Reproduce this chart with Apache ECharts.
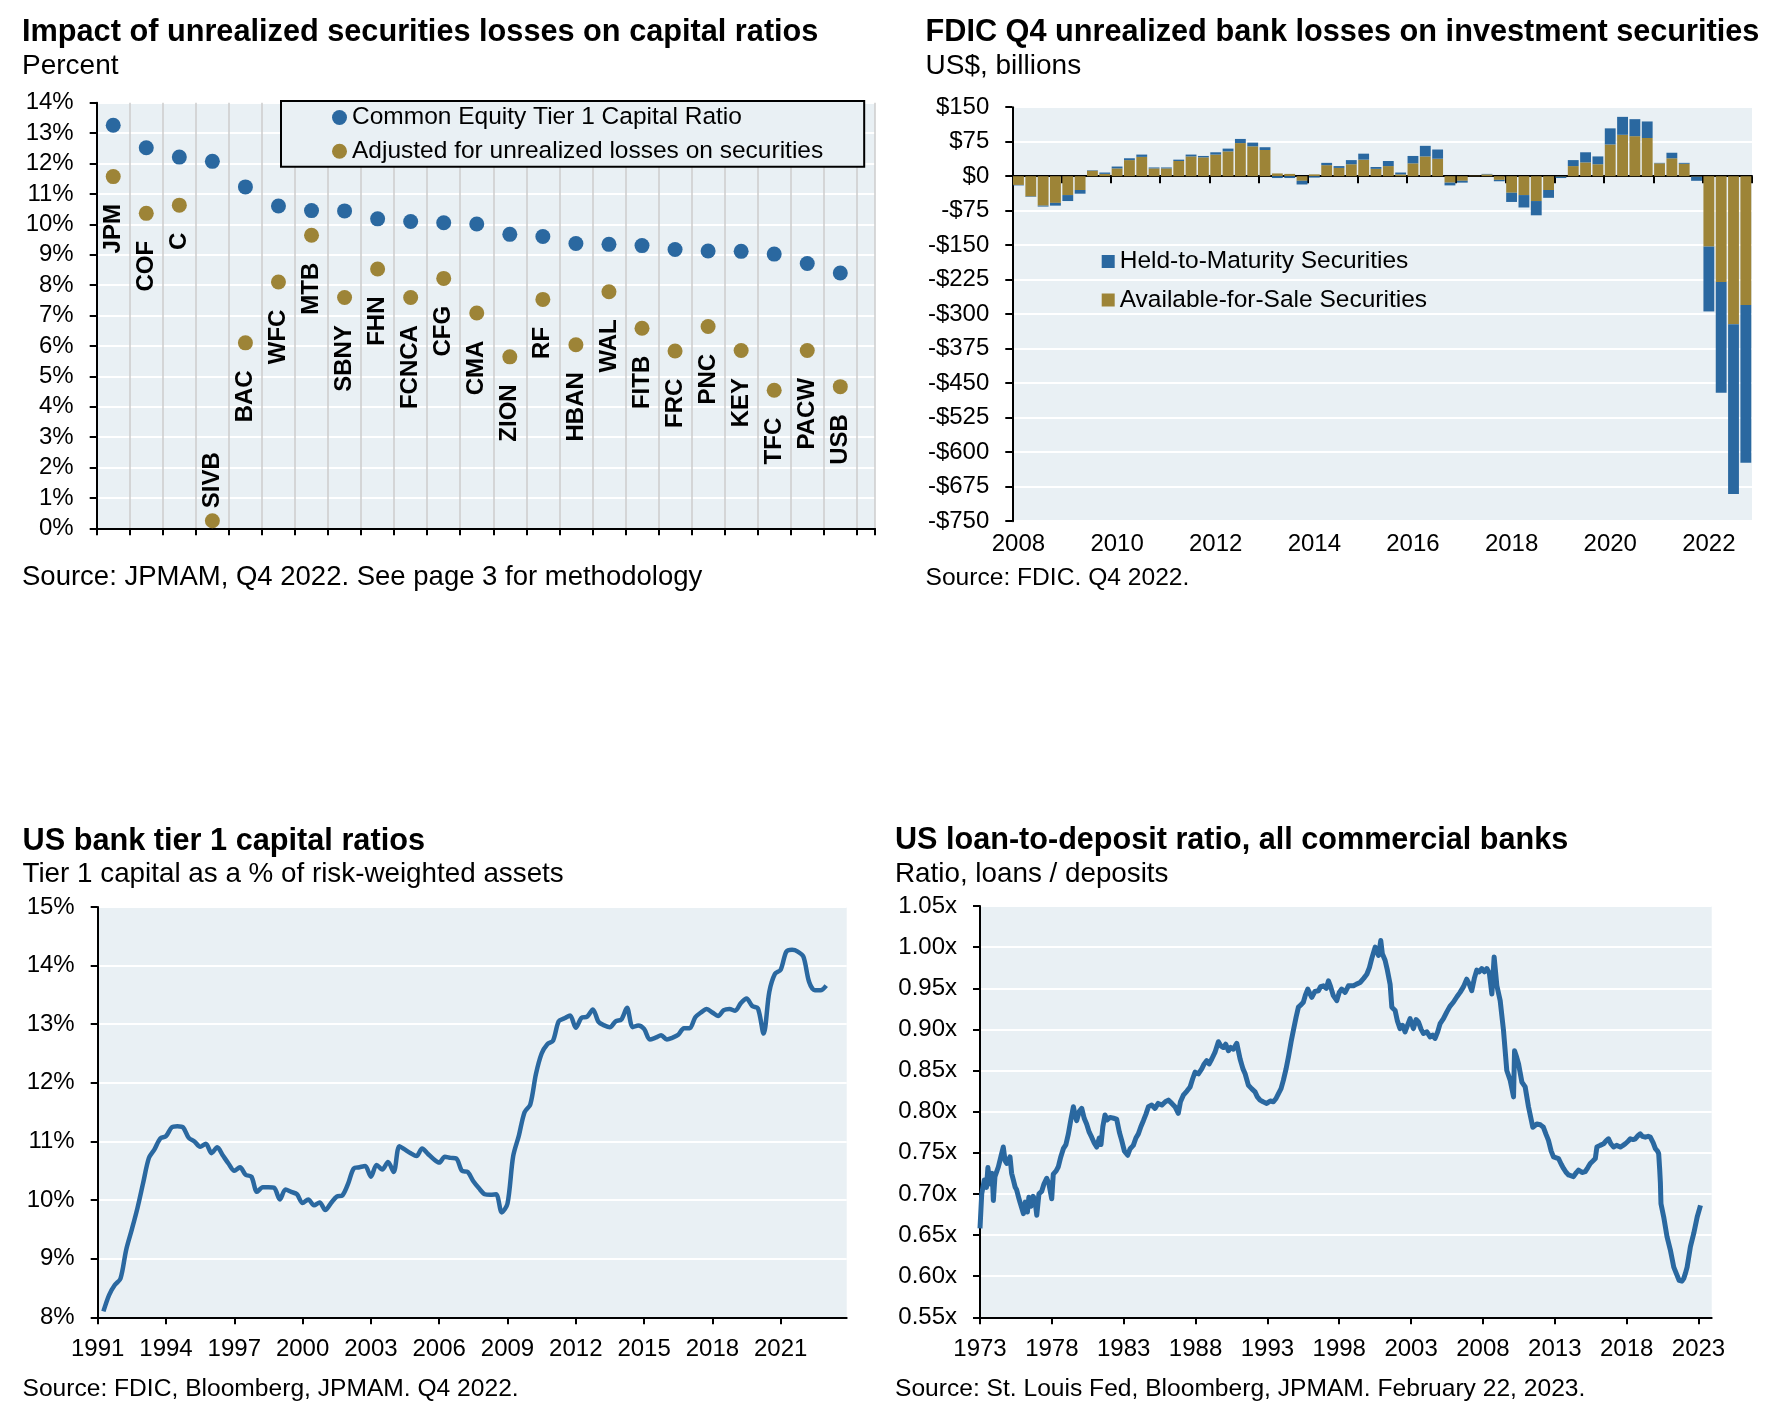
<!DOCTYPE html>
<html><head><meta charset="utf-8">
<script src="https://cdn.jsdelivr.net/npm/echarts@6/dist/echarts.min.js"></script>
<style>html,body{margin:0;padding:0;background:#fff}#c{width:1781px;height:1418px}</style>
</head><body><div id="c"></div>
<script>
// ---------- Chart 1: capital ratios by bank ----------
const banks = ['JPM','COF','C','SIVB','BAC','WFC','MTB','SBNY','FHN','FCNCA','CFG','CMA','ZION','RF','HBAN','WAL','FITB','FRC','PNC','KEY','TFC','PACW','USB'];
const cet1Ratio = [13.26,12.52,12.21,12.07,11.23,10.60,10.45,10.44,10.18,10.09,10.05,10.01,9.67,9.60,9.37,9.34,9.30,9.17,9.12,9.11,9.02,8.71,8.40];
const adjustedRatio = [11.57,10.36,10.63,0.25,6.10,8.10,9.64,7.59,8.53,7.59,8.22,7.08,5.64,7.53,6.04,7.78,6.58,5.83,6.64,5.85,4.54,5.85,4.66];
const labelAboveBanks = ['SIVB'];

// ---------- Chart 2: FDIC unrealized losses (US$ bn), 2008 Q1 .. 2022 Q4 ----------
const fdicYears = [2008,2009,2010,2011,2012,2013,2014,2015,2016,2017,2018,2019,2020,2021,2022];
const afsLosses = [-19,-44,-64,-58, -41,-30,12,5, 17,35,42,17, 17,33,43,41, 47,54,72,65, 57,6,5,-10, 4,24,18,26, 36,16,22,4, 28,43,38,-14, -10,1,4,-8, -36,-41,-54,-30, -1,22,30,26, 69,90,87,83, 28,39,27,-1, -153,-230,-322,-280];
const htmLosses = [-1,-1,-2,-6, -13,-8,1,3, 4,4,5,2, 2,3,4,3, 5,6,9,8, 6,-4,-4,-8, -3,5,4,9, 13,4,11,4, 16,23,20,-6, -4,0,1,-3, -20,-27,-31,-17, -3,13,22,17, 35,39,37,36, 1,12,2,-9, -141,-241,-369,-343];

// ---------- Chart 3: US bank tier 1 capital ratio, quarterly from 1991 Q1 ----------
const tier1StartYear = 1991.25;
const tier1Ratio = [8.10,8.38,8.55,8.66, 9.15,9.50,9.87,10.30, 10.72,10.87,11.05,11.09, 11.24,11.26,11.24,11.06,
  11.00,10.91,10.96,10.80, 10.90,10.76,10.62,10.50, 10.56,10.43,10.40,10.14, 10.22,10.22,10.21,10.01,
  10.18,10.14,10.10,9.95, 10.01,9.91,9.96,9.83, 9.95,10.06,10.08,10.28, 10.54,10.56,10.58,10.40,
  10.60,10.52,10.65,10.48, 10.92,10.86,10.80,10.75, 10.88,10.79,10.70,10.64, 10.74,10.72,10.71,10.50,
  10.48,10.32,10.20,10.10, 10.09,10.10,9.79,9.94, 10.75,11.10,11.50,11.63, 12.15,12.50,12.66,12.72,
  13.05,13.10,13.15,12.94, 13.11,13.13,13.25,13.04, 12.98,12.95,13.05,13.08, 13.28,12.95,12.98,12.92,
  12.74,12.77,12.81,12.74, 12.77,12.82,12.93,12.93, 13.12,13.20,13.26,13.20, 13.14,13.24,13.26,13.23,
  13.36,13.44,13.31,13.27, 12.84,13.55,13.86,13.93, 14.24,14.27,14.24,14.15, 13.72,13.58,13.58,13.66];

// ---------- Chart 4: loan-to-deposit ratio ----------
const ldrTime = [1973.00,1973.12,1973.30,1973.45,1973.55,1973.70,1973.85,1973.93,1974.04,1974.28,1974.45,1974.62,1974.75,1974.86,1975.09,1975.20,1975.32,1975.45,1975.55,1975.70,1975.78,1975.90,1976.02,1976.15,1976.30,1976.40,1976.55,1976.70,1976.83,1976.95,1977.10,1977.29,1977.45,1977.64,1977.80,1977.99,1978.10,1978.30,1978.45,1978.62,1978.80,1978.98,1979.15,1979.32,1979.50,1979.62,1979.73,1979.90,1980.08,1980.25,1980.42,1980.60,1980.77,1980.95,1981.12,1981.30,1981.42,1981.55,1981.70,1981.85,1982.05,1982.30,1982.51,1982.70,1982.86,1983.05,1983.28,1983.45,1983.67,1983.85,1984.02,1984.20,1984.37,1984.55,1984.72,1984.95,1985.18,1985.40,1985.65,1985.90,1986.11,1986.35,1986.57,1986.80,1986.95,1987.15,1987.40,1987.62,1987.80,1987.97,1988.20,1988.43,1988.60,1988.78,1988.95,1989.13,1989.35,1989.59,1989.75,1989.94,1990.10,1990.29,1990.45,1990.63,1990.87,1991.10,1991.30,1991.45,1991.68,1991.90,1992.14,1992.30,1992.49,1992.70,1992.95,1993.20,1993.42,1993.60,1993.77,1993.95,1994.11,1994.30,1994.46,1994.65,1994.81,1995.00,1995.16,1995.35,1995.50,1995.65,1995.81,1996.00,1996.09,1996.30,1996.55,1996.70,1996.90,1997.10,1997.25,1997.40,1997.59,1997.83,1998.00,1998.17,1998.41,1998.64,1998.99,1999.20,1999.45,1999.70,1999.92,2000.10,2000.26,2000.50,2000.73,2000.89,2001.00,2001.19,2001.35,2001.54,2001.66,2001.89,2002.05,2002.23,2002.40,2002.58,2002.75,2002.93,2003.16,2003.35,2003.51,2003.70,2003.86,2004.10,2004.32,2004.50,2004.67,2004.85,2005.02,2005.25,2005.48,2005.70,2005.94,2006.20,2006.41,2006.65,2006.87,2007.05,2007.22,2007.40,2007.57,2007.75,2007.92,2008.10,2008.27,2008.45,2008.62,2008.78,2008.97,2009.20,2009.43,2009.66,2009.90,2010.13,2010.20,2010.35,2010.48,2010.71,2010.94,2011.17,2011.47,2011.75,2012.00,2012.21,2012.40,2012.56,2012.75,2012.91,2013.26,2013.45,2013.61,2013.80,2013.96,2014.30,2014.50,2014.65,2014.90,2015.12,2015.30,2015.47,2015.65,2015.82,2015.93,2016.15,2016.40,2016.60,2016.74,2016.90,2017.09,2017.30,2017.56,2017.75,2017.91,2018.10,2018.26,2018.45,2018.60,2018.80,2018.95,2019.10,2019.30,2019.50,2019.65,2019.85,2020.00,2020.15,2020.23,2020.30,2020.35,2020.39,2020.58,2020.81,2021.04,2021.28,2021.51,2021.65,2021.74,2021.85,2021.97,2022.10,2022.21,2022.44,2022.67,2022.91,2023.14];
const ldrValue = [0.658,0.700,0.717,0.708,0.732,0.712,0.725,0.692,0.721,0.733,0.745,0.757,0.740,0.737,0.745,0.725,0.717,0.708,0.705,0.695,0.690,0.683,0.676,0.690,0.678,0.696,0.685,0.697,0.692,0.674,0.700,0.703,0.712,0.719,0.712,0.694,0.724,0.728,0.733,0.745,0.755,0.760,0.773,0.790,0.806,0.795,0.789,0.800,0.804,0.792,0.785,0.775,0.769,0.762,0.757,0.768,0.760,0.782,0.796,0.790,0.793,0.792,0.791,0.775,0.765,0.752,0.747,0.755,0.759,0.768,0.773,0.782,0.789,0.797,0.806,0.808,0.804,0.810,0.808,0.812,0.814,0.810,0.806,0.798,0.812,0.820,0.825,0.830,0.840,0.848,0.846,0.852,0.858,0.862,0.858,0.864,0.872,0.885,0.880,0.878,0.882,0.874,0.878,0.876,0.883,0.864,0.852,0.846,0.832,0.828,0.824,0.818,0.814,0.812,0.810,0.813,0.812,0.816,0.822,0.828,0.838,0.852,0.866,0.885,0.899,0.915,0.927,0.930,0.933,0.942,0.949,0.942,0.939,0.946,0.947,0.952,0.953,0.950,0.959,0.952,0.941,0.935,0.945,0.949,0.945,0.953,0.953,0.955,0.957,0.962,0.967,0.975,0.986,1.000,0.990,1.008,0.992,0.984,0.972,0.955,0.927,0.923,0.910,0.901,0.905,0.897,0.905,0.913,0.901,0.912,0.909,0.900,0.895,0.897,0.891,0.893,0.889,0.897,0.907,0.913,0.921,0.928,0.933,0.940,0.945,0.952,0.961,0.955,0.947,0.962,0.972,0.970,0.974,0.970,0.974,0.968,0.943,0.988,0.953,0.935,0.899,0.850,0.838,0.818,0.874,0.866,0.858,0.836,0.830,0.806,0.781,0.785,0.784,0.781,0.772,0.765,0.752,0.745,0.743,0.736,0.731,0.726,0.723,0.721,0.726,0.729,0.726,0.727,0.732,0.737,0.740,0.743,0.757,0.759,0.761,0.765,0.767,0.761,0.757,0.759,0.757,0.759,0.761,0.764,0.767,0.766,0.767,0.771,0.773,0.770,0.769,0.770,0.769,0.762,0.755,0.752,0.749,0.730,0.713,0.688,0.672,0.648,0.632,0.611,0.601,0.595,0.593,0.594,0.597,0.604,0.611,0.636,0.652,0.672,0.686];

const tier1Ticks = [1991,1994,1997,2000,2003,2006,2009,2012,2015,2018,2021];
const ldrTicks = [1973,1978,1983,1988,1993,1998,2003,2008,2013,2018,2023];

// ---------- styling ----------
const FONT = '"Liberation Sans", Arial, Helvetica, sans-serif';
const BG = '#E9F0F4', BLUE = '#2A68A0', GOLD = '#9D8437';
const axisLine = {show: true, onZero: false, lineStyle: {color: '#000', width: 2}};
const axisTick = {show: true, length: 7, lineStyle: {color: '#000', width: 2}};
const lbl = {fontFamily: FONT, fontSize: 24, color: '#000'};
const whiteSplit = {show: true, lineStyle: {color: '#FFFFFF', width: 2}};

const qLabels = [];
fdicYears.forEach(y => { for (let q = 1; q <= 4; q++) qLabels.push(y + ' Q' + q); });

const adjData = adjustedRatio.map((v, i) => {
  const above = labelAboveBanks.includes(banks[i]);
  return {
    value: [i + 0.5, v], name: banks[i],
    label: above
      ? {show: true, position: 'top', distance: 5, rotate: 90, align: 'left', verticalAlign: 'middle'}
      : {show: true, position: 'bottom', distance: 20, rotate: 90, align: 'right', verticalAlign: 'middle'}
  };
});

function txt(x, y, text, size, bold) {
  return {type: 'text', x: x, y: y, silent: true,
    style: {text: text, fill: '#000', font: (bold ? 'bold ' : '') + size + 'px ' + FONT,
      align: 'left', verticalAlign: 'middle', textAlign: 'left', textVerticalAlign: 'middle'}};
}

const chart = echarts.init(document.getElementById('c'), null, {renderer: 'canvas'});
chart.setOption({
  animation: false,
  backgroundColor: '#FFFFFF',
  textStyle: {fontFamily: FONT},
  graphic: [
    txt(22, 32.7, 'Impact of unrealized securities losses on capital ratios', 30.7, true),
    txt(22, 66, 'Percent', 28, false),
    txt(22, 577, 'Source: JPMAM, Q4 2022. See page 3 for methodology', 27.5, false),
    txt(925.5, 32.7, 'FDIC Q4 unrealized bank losses on investment securities', 30.7, true),
    txt(925.5, 66, 'US$, billions', 28, false),
    txt(925.5, 578, 'Source: FDIC. Q4 2022.', 24.6, false),
    txt(22.5, 842, 'US bank tier 1 capital ratios', 30.7, true),
    txt(22.5, 874.5, 'Tier 1 capital as a % of risk-weighted assets', 27.8, false),
    txt(22.5, 1389, 'Source: FDIC, Bloomberg, JPMAM. Q4 2022.', 24.6, false),
    txt(895, 841, 'US loan-to-deposit ratio, all commercial banks', 30.6, true),
    txt(895, 874.5, 'Ratio, loans / deposits', 27.8, false),
    txt(895, 1389, 'Source: St. Louis Fed, Bloomberg, JPMAM. February 22, 2023.', 24.6, false)
  ],
  legend: [
    {data: ['Common Equity Tier 1 Capital Ratio', 'Adjusted for unrealized losses on securities'],
     orient: 'vertical', left: 281, top: 101, padding: [4, 41, 3, 51], itemWidth: 15, itemHeight: 15,
     itemGap: 8.7, icon: 'circle', backgroundColor: BG, borderColor: '#000', borderWidth: 2,
     selectedMode: false, textStyle: {fontFamily: FONT, fontSize: 24.5, lineHeight: 25, color: '#000'}},
    {data: ['Held-to-Maturity Securities', 'Available-for-Sale Securities'],
     orient: 'vertical', left: 1101.7, top: 249, padding: 0, itemWidth: 13, itemHeight: 13,
     itemGap: 13.5, icon: 'rect', selectedMode: false,
     textStyle: {fontFamily: FONT, fontSize: 24.5, lineHeight: 25, color: '#000'}}
  ],
  grid: [
    {left: 96.7, top: 102.7, width: 778.3, height: 425.6, show: true, backgroundColor: BG, borderWidth: 0},
    {left: 1012.3, top: 107.2, width: 739.7, height: 414, show: true, backgroundColor: BG, borderWidth: 0},
    {left: 97.7, top: 907, width: 749, height: 410.3, show: true, backgroundColor: BG, borderWidth: 0},
    {left: 980, top: 906, width: 731.7, height: 411.3, show: true, backgroundColor: BG, borderWidth: 0}
  ],
  xAxis: [
    {gridIndex: 0, type: 'value', min: 0, max: 23.55, interval: 1, axisLine: axisLine, axisTick: axisTick,
     axisLabel: {show: false}, splitLine: {show: true, lineStyle: {color: '#CDCDCD', width: 1.5}}},
    {gridIndex: 1, type: 'category', data: qLabels, position: 'bottom',
     axisLine: {show: false, onZero: false}, axisTick: {show: false},
     axisLabel: Object.assign({interval: 7, margin: 11, formatter: v => v.slice(0, 4)}, lbl),
     splitLine: {show: false}},
    {gridIndex: 1, type: 'category', data: qLabels, position: 'top',
     axisLine: {show: true, onZero: true, lineStyle: {color: '#000', width: 2}},
     axisTick: {show: true, inside: true, interval: 3, length: 7, lineStyle: {color: '#000', width: 2}},
     axisLabel: {show: false}, splitLine: {show: false}},
    {gridIndex: 2, type: 'value', min: 1991, max: 2023.9, axisLine: axisLine,
     axisTick: Object.assign({customValues: tier1Ticks}, axisTick),
     axisLabel: Object.assign({customValues: tier1Ticks, margin: 20, formatter: v => String(v)}, lbl),
     splitLine: {show: false}},
    {gridIndex: 3, type: 'value', min: 1973, max: 2023.92, axisLine: axisLine,
     axisTick: Object.assign({customValues: ldrTicks}, axisTick),
     axisLabel: Object.assign({customValues: ldrTicks, margin: 20, formatter: v => String(v)}, lbl),
     splitLine: {show: false}}
  ],
  yAxis: [
    {gridIndex: 0, type: 'value', min: 0, max: 14, interval: 1, axisLine: axisLine, axisTick: axisTick,
     axisLabel: Object.assign({margin: 23, formatter: '{value}%'}, lbl), splitLine: whiteSplit},
    {gridIndex: 1, type: 'value', min: -750, max: 150, interval: 75, axisLine: axisLine, axisTick: axisTick,
     axisLabel: Object.assign({margin: 23, formatter: v => (v < 0 ? '-$' : '$') + Math.abs(v)}, lbl),
     splitLine: whiteSplit},
    {gridIndex: 2, type: 'value', min: 8, max: 15, interval: 1, axisLine: axisLine, axisTick: axisTick,
     axisLabel: Object.assign({margin: 23, formatter: '{value}%'}, lbl), splitLine: whiteSplit},
    {gridIndex: 3, type: 'value', min: 0.55, max: 1.05, interval: 0.05, axisLine: axisLine, axisTick: axisTick,
     axisLabel: Object.assign({margin: 23, formatter: v => v.toFixed(2) + 'x'}, lbl), splitLine: whiteSplit}
  ],
  series: [
    {name: 'Common Equity Tier 1 Capital Ratio', type: 'scatter', xAxisIndex: 0, yAxisIndex: 0,
     symbolSize: 15, itemStyle: {color: BLUE, opacity: 1}, z: 3,
     data: cet1Ratio.map((v, i) => [i + 0.5, v])},
    {name: 'Adjusted for unrealized losses on securities', type: 'scatter', xAxisIndex: 0, yAxisIndex: 0,
     symbolSize: 15, itemStyle: {color: GOLD, opacity: 1}, z: 3,
     label: {show: true, formatter: p => p.name, fontFamily: FONT, fontSize: 24, fontWeight: 'bold', color: '#000'},
     data: adjData},
    {name: 'Available-for-Sale Securities', type: 'bar', xAxisIndex: 1, yAxisIndex: 1, stack: 'fdic',
     barCategoryGap: '12%', itemStyle: {color: GOLD}, data: afsLosses},
    {name: 'Held-to-Maturity Securities', type: 'bar', xAxisIndex: 1, yAxisIndex: 1, stack: 'fdic',
     barCategoryGap: '12%', itemStyle: {color: BLUE}, data: htmLosses},
    {name: 'Tier 1 capital ratio', type: 'line', xAxisIndex: 3, yAxisIndex: 2, showSymbol: false,
     smooth: 0.3, lineStyle: {color: BLUE, width: 4.5}, itemStyle: {color: BLUE},
     data: tier1Ratio.map((v, i) => [tier1StartYear + 0.25 * i, v])},
    {name: 'Loan-to-deposit ratio', type: 'line', xAxisIndex: 4, yAxisIndex: 3, showSymbol: false,
     lineStyle: {color: BLUE, width: 5, join: 'round'}, itemStyle: {color: BLUE},
     data: ldrTime.map((t, i) => [t, ldrValue[i]])}
  ]
});
</script>
</body></html>
